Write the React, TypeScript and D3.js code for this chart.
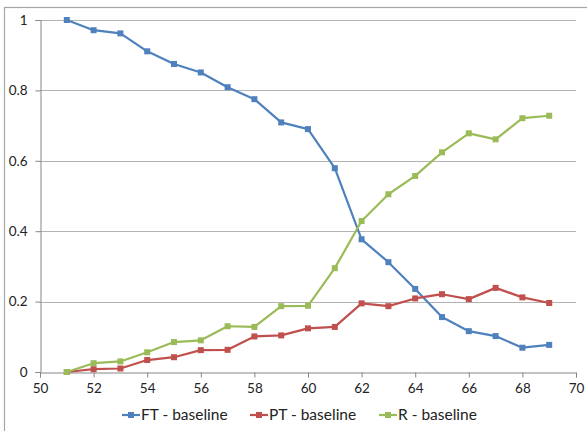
import React, { useEffect, useRef } from 'react'
import * as d3 from 'd3'

const xs = [51, 52, 53, 54, 55, 56, 57, 58, 59, 60, 61, 62, 63, 64, 65, 66, 67, 68, 69]
const ftBaseline = [1.0, 0.971, 0.962, 0.911, 0.875, 0.851, 0.809, 0.775, 0.709, 0.69, 0.579, 0.377, 0.312, 0.236, 0.156, 0.116, 0.102, 0.069, 0.077]
const ptBaseline = [0, 0.008, 0.01, 0.034, 0.042, 0.062, 0.063, 0.101, 0.104, 0.124, 0.128, 0.195, 0.187, 0.209, 0.221, 0.207, 0.239, 0.212, 0.196]
const rBaseline = [0, 0.025, 0.03, 0.056, 0.085, 0.09, 0.13, 0.128, 0.187, 0.188, 0.295, 0.429, 0.505, 0.557, 0.624, 0.678, 0.661, 0.721, 0.728]
const seriesNames = ['FT - baseline', 'PT - baseline', 'R - baseline']
const colors = ['#4F81BD', '#C0504D', '#9BBB59']
const xTicks = [50, 52, 54, 56, 58, 60, 62, 64, 66, 68, 70]
const yTicks = [0, 0.2, 0.4, 0.6, 0.8, 1]

const W = 587
const H = 431
const font = 'Lato, "Open Sans", sans-serif'

export default function App() {
  const ref = useRef<SVGSVGElement>(null)

  useEffect(() => {
    const svg = d3.select(ref.current)
    svg.selectAll('*').remove()

    const x = d3.scaleLinear().domain([50, 70]).range([40, 576])
    const y = d3.scaleLinear().domain([0, 1]).range([372, 20])

    // chart frame
    svg.append('rect').attr('x', 4.5).attr('y', 7.5).attr('width', 640).attr('height', 440)
      .attr('fill', 'white').attr('stroke', '#a6a6a6').attr('stroke-width', 1.2)

    // gridlines
    svg.append('g').selectAll('line').data(yTicks.filter(d => d > 0)).join('line')
      .attr('x1', x(50)).attr('x2', x(70))
      .attr('y1', d => Math.round(y(d)) + 0.5).attr('y2', d => Math.round(y(d)) + 0.5)
      .attr('stroke', '#b3b3b3').attr('stroke-width', 1)

    // y axis
    const yAxis = svg.append('g').attr('transform', `translate(${x(50) + 0.5},0)`)
      .call(d3.axisLeft(y).tickValues(yTicks).tickSize(5).tickPadding(8).tickFormat(d => String(d)))
    yAxis.select('.domain').attr('stroke', '#868686')
    yAxis.selectAll('.tick line').attr('stroke', '#868686')
    yAxis.selectAll('.tick text').attr('font-family', font).attr('font-size', 13.5).attr('fill', '#222')

    // x axis
    const xAxis = svg.append('g').attr('transform', `translate(0,${y(0) + 0.5})`)
      .call(d3.axisBottom(x).tickValues(xTicks).tickSize(5).tickSizeOuter(5).tickPadding(6))
    xAxis.select('.domain').attr('stroke', '#868686')
    xAxis.selectAll('.tick line').attr('stroke', '#868686')
    xAxis.selectAll('.tick text').attr('font-family', font).attr('font-size', 13.5).attr('fill', '#222')

    const allSeries = [ftBaseline, ptBaseline, rBaseline]
    const line = d3.line<number>().x((_, i) => x(xs[i])).y(d => y(d))

    allSeries.forEach((vals, si) => {
      const g = svg.append('g')
      g.append('path').datum(vals).attr('d', line).attr('fill', 'none')
        .attr('stroke', colors[si]).attr('stroke-width', 2.2).attr('stroke-linejoin', 'round')
      g.selectAll('rect').data(vals).join('rect')
        .attr('x', (_, i) => x(xs[i]) - 3).attr('y', d => y(d) - 3)
        .attr('width', 6).attr('height', 6).attr('fill', colors[si])
    })

    // legend
    const legendX = [122, 250, 379]
    const ly = 415
    seriesNames.forEach((name, i) => {
      const g = svg.append('g').attr('transform', `translate(${legendX[i]},${ly})`)
      g.append('line').attr('x1', 0).attr('x2', 18).attr('y1', 0).attr('y2', 0)
        .attr('stroke', colors[i]).attr('stroke-width', 2.2)
      g.append('rect').attr('x', 6).attr('y', -3).attr('width', 6).attr('height', 6).attr('fill', colors[i])
      g.append('text').attr('x', 19).attr('y', 0).attr('dy', '0.35em')
        .attr('font-family', font).attr('font-size', 15.5).attr('fill', '#222').text(name)
    })
  }, [])

  return (
    <svg ref={ref} width={W} height={H} style={{ position: 'absolute', left: 0, top: 0, background: 'white' }} />
  )
}
